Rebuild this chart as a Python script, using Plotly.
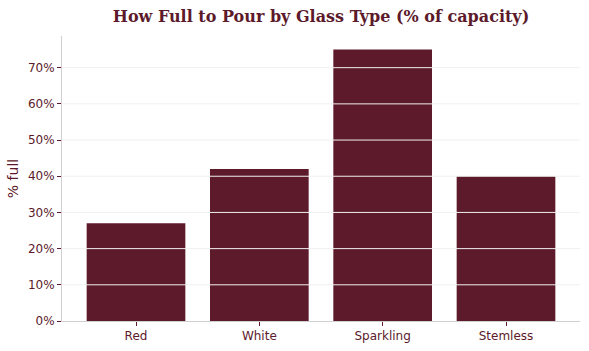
import plotly.graph_objects as go

glass_types = ["Red", "White", "Sparkling", "Stemless"]
pour_fraction = [0.27, 0.42, 0.75, 0.40]
y_ticks = [0.1, 0.2, 0.3, 0.4, 0.5, 0.6, 0.7]

wine = "#5C1A2B"

fig = go.Figure(go.Bar(x=glass_types, y=pour_fraction, marker_color=wine, marker_line_width=0))

for t in y_ticks:
    fig.add_shape(type="line", xref="paper", yref="y", x0=0, x1=1, y0=t, y1=t,
                  line=dict(color="#f0f0f0", width=1), layer="above")

fig.update_layout(
    width=589, height=351,
    margin=dict(l=62, r=9, t=36, b=30),
    paper_bgcolor="white", plot_bgcolor="white",
    bargap=0.2,
    showlegend=False,
    font=dict(family="DejaVu Sans", size=12, color=wine),
    title=dict(text="<b>How Full to Pour by Glass Type (% of capacity)</b>",
               x=0.5, xref="paper", xanchor="center", y=0.969, yanchor="top",
               font=dict(family="DejaVu Serif", size=16, color=wine)),
)
fig.update_xaxes(range=[-0.6, 3.6], showline=True, linecolor="#d0d0d0", linewidth=1,
                 ticks="outside", ticklen=4, tickcolor=wine, showgrid=False)
fig.update_yaxes(range=[0, 0.7875], tickformat=".0%", tickvals=[0] + y_ticks, showline=True,
                 linecolor="#d0d0d0", linewidth=1, ticks="outside", ticklen=4, tickcolor=wine,
                 showgrid=False, layer="above traces",
                 zeroline=False, title=dict(text="% full", standoff=6))

fig.write_html("out.html")
